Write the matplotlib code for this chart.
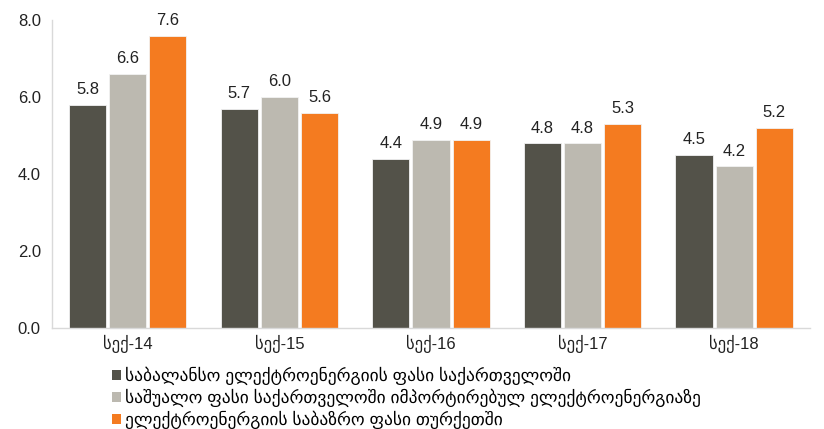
import matplotlib
matplotlib.use("Agg")
import matplotlib.pyplot as plt
import numpy as np
from matplotlib.patches import Patch

plt.rcParams['font.family'] = ['Liberation Sans', 'DejaVu Sans']

categories = ["სექ-14", "სექ-15", "სექ-16", "სექ-17", "სექ-18"]
balance_ge = [5.8, 5.7, 4.4, 4.8, 4.5]
import_ge = [6.6, 6.0, 4.9, 4.8, 4.2]
market_tr = [7.6, 5.6, 4.9, 5.3, 5.2]
series_names = [
    "საბალანსო ელექტროენერგიის ფასი საქართველოში",
    "საშუალო ფასი საქართველოში იმპორტირებულ ელექტროენერგიაზე",
    "ელექტროენერგიის საბაზრო ფასი თურქეთში",
]
colors = ["#535249", "#BCB9B0", "#F47B20"]
yticks = [0, 2, 4, 6, 8]

fig = plt.figure(figsize=(8.24, 4.29), dpi=100)
ax = fig.add_axes([0.063, 0.235, 0.920, 0.718])

x = np.arange(len(categories))
w = 0.245
step = 0.265
for i, (vals, c) in enumerate(zip([balance_ge, import_ge, market_tr], colors)):
    pos = x + (i - 1) * step
    ax.bar(pos, vals, width=w, color=c, edgecolor="#F2F2F2", linewidth=0.6)
    for p, v in zip(pos, vals):
        ax.text(p, v + 0.2, f"{v:.1f}", ha="center", va="bottom", fontsize=12, color="#222222")

ax.set_xlim(-0.5, len(categories) - 0.5)
ax.set_ylim(0, 8)
ax.set_yticks(yticks)
ax.set_yticklabels([f"{t:.1f}" for t in yticks], fontsize=12)
ax.set_xticks(x)
ax.set_xticklabels(categories, fontsize=12)
ax.tick_params(axis="both", length=0, pad=8, colors="#222222")
ax.tick_params(axis="x", pad=5)
for s in ["top", "right"]:
    ax.spines[s].set_visible(False)
for s in ["left", "bottom"]:
    ax.spines[s].set_color("#D9D9D9")
    ax.spines[s].set_linewidth(1.0)

handles = [Patch(facecolor=c, edgecolor="none") for c in colors]
fig.legend(handles, series_names, loc="upper left", bbox_to_anchor=(0.136, 0.145),
           frameon=False, fontsize=12.6, handlelength=0.5, handleheight=0.5,
           handletextpad=0.25, labelspacing=0.2, borderaxespad=0, borderpad=0)

fig.savefig("out.png", dpi=100)
